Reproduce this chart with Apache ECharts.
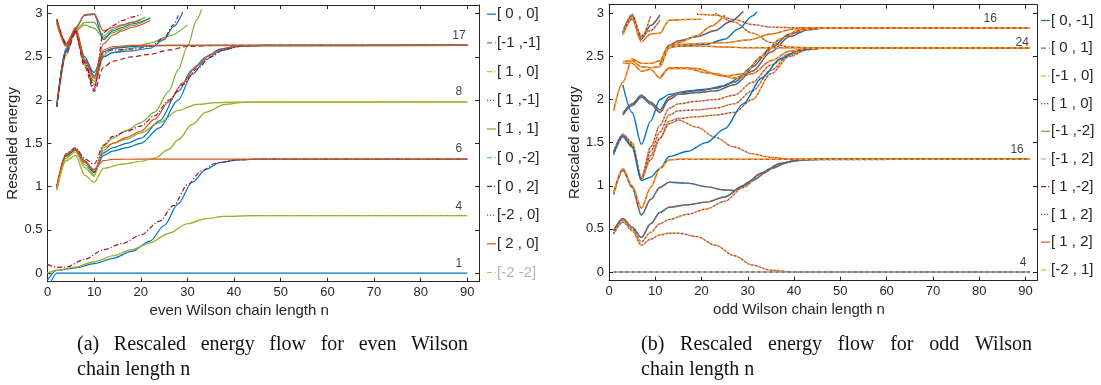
<!DOCTYPE html>
<html><head><meta charset="utf-8">
<script src="https://cdn.jsdelivr.net/npm/echarts@6/dist/echarts.min.js"></script>
<style>html,body{margin:0;padding:0;background:#fff}#c{width:1101px;height:385px}</style>
</head><body><div id="c"></div>
<script>
// ================= DATA =================
const xTicks = [0,10,20,30,40,50,60,70,80,90];
const yTicks = [0,0.5,1,1.5,2,2.5,3];
const evenLegend = ['[ 0 , 0]','[-1 ,-1]','[ 1 , 0]','[ 1 ,-1]','[ 1 , 1]','[ 0 ,-2]','[ 0 , 2]','[-2 , 0]','[ 2 , 0]','[-2 -2]'];
const oddLegend  = ['[ 0, -1]','[ 0 , 1]','[-1 , 0]','[ 1 , 0]','[-1 ,-2]','[-1 , 2]','[ 1 ,-2]','[ 1 , 2]','[ 1 , 2]','[-2 , 1]'];
const evenLevels = [2.634, 1.978, 1.317, 0.664, 0.0];
const evenDegeneracy = ['17','8','6','4','1'];
const oddLevels = [2.833, 2.6, 1.307, 0.0];
const oddDegeneracy = ['16','24','16','4'];
const captionA = ['(a) Rescaled energy flow for even Wilson', 'chain length n'];
const captionB = ['(b) Rescaled energy flow for odd Wilson', 'chain length n'];

// ---- even Wilson chain (n, rescaled energy) ----
const eL1 = [[0,-0.2],[2,0.0],[4,0.0],[90,0.0]];
const eL2 = [[0,-0.08],[2,0.03],[6,0.06],[10,0.11],[14,0.17],[18,0.25],[22,0.37],[25,0.55],[28,0.8],[31,1.05],[34,1.2],[37,1.28],[41,1.31],[46,1.317],[90,1.317]];
const eL3 = [[0,0.1],[2,0.065],[4,0.07],[8,0.16],[12,0.27],[16,0.34],[20,0.44],[24,0.6],[27,0.78],[30,1.02],[33,1.18],[36,1.27],[40,1.305],[45,1.317],[90,1.317]];
const eL4 = [[0,0.0],[2,0.03],[6,0.07],[10,0.13],[14,0.2],[18,0.27],[22,0.35],[26,0.46],[30,0.57],[34,0.63],[38,0.655],[44,0.664],[90,0.664]];
const eM1 = [[2,0.99],[4,1.38],[6,1.43],[8,1.28],[10,1.2],[12,1.3],[14,1.315],[20,1.317],[90,1.317]];
const eM2 = [[2,0.96],[4,1.3],[6,1.36],[8,1.13],[10,1.05],[12,1.21],[16,1.26],[20,1.29],[23,1.33],[26,1.43],[28,1.54],[31,1.72],[34,1.86],[38,1.95],[42,1.975],[50,1.978],[90,1.978]];
const eM3 = [[2,1.0],[4,1.37],[6,1.44],[8,1.3],[10,1.18],[12,1.42],[14,1.5],[17,1.57],[20,1.64],[23,1.78],[26,1.98],[29,2.2],[32,2.4],[35,2.53],[38,2.6],[42,2.63],[90,2.634]];
const eM4 = [[2,1.0],[4,1.38],[6,1.45],[8,1.32],[10,1.26],[12,1.48],[14,1.58],[17,1.64],[20,1.7],[23,1.82],[26,2.0],[29,2.18],[32,2.36],[35,2.5],[38,2.59],[42,2.625],[48,2.634],[90,2.634]];
const eM5 = [[2,1.0],[4,1.36],[6,1.43],[8,1.29],[10,1.16],[12,1.36],[14,1.41],[17,1.45],[20,1.5],[24,1.68],[28,2.0],[31,2.3],[34,2.47],[37,2.57],[41,2.62],[46,2.634],[90,2.634]];
const eM6 = [[2,0.99],[4,1.36],[6,1.42],[8,1.28],[10,1.17],[12,1.39],[14,1.45],[17,1.5],[20,1.56],[24,1.76],[28,2.1],[31,2.35],[34,2.5],[37,2.59],[41,2.63],[90,2.634]];
const eM7 = [[2,0.97],[4,1.33],[6,1.4],[8,1.22],[10,1.12],[12,1.45],[14,1.5],[17,1.55],[20,1.62],[24,1.74],[28,1.88],[32,1.95],[36,1.97],[40,1.976],[90,1.978]];
const eM8 = [[2,0.98],[4,1.35],[6,1.42],[8,1.25],[10,1.14],[12,1.47],[14,1.56],[17,1.65],[20,1.74],[23,1.86],[26,2.1],[28,2.35],[30,2.62],[32,2.93],[33,3.05]];
const eT1 = [[2,2.93],[4,2.65],[6,2.82],[8,2.99],[10,3.0],[12,2.8],[14,2.84],[16,2.87],[18,2.9],[20,2.93]];
const eT2 = [[2,2.94],[4,2.66],[6,2.8],[8,2.44],[10,2.12],[12,2.78],[14,2.86],[16,2.92],[18,2.96],[20,2.99]];
const eT3 = [[2,1.92],[4,2.52],[6,2.8],[8,2.87],[10,2.83],[12,2.72],[14,2.78],[16,2.82],[18,2.86],[22,2.95]];
const eT4 = [[2,1.93],[4,2.58],[6,2.84],[8,2.98],[10,2.99],[12,2.7],[14,2.8],[16,2.84],[18,2.88],[22,2.95]];
const eT5 = [[2,2.9],[4,2.62],[6,2.84],[8,2.45],[10,2.25],[12,2.58],[14,2.62],[18,2.632],[90,2.634]];
const eT6 = [[2,1.95],[4,2.6],[6,2.8],[8,2.47],[10,2.32],[12,2.56],[14,2.6],[20,2.625],[26,2.634],[90,2.634]];
const eT7 = [[2,2.88],[4,2.64],[6,2.78],[8,2.4],[10,2.22],[12,2.52],[14,2.6],[18,2.63],[90,2.634]];
const eT8 = [[2,1.92],[4,2.55],[6,2.77],[8,2.38],[10,2.1],[12,2.38],[14,2.45],[18,2.5],[22,2.53],[26,2.58],[30,2.62],[36,2.634],[90,2.634]];
const eT9 = [[2,1.94],[4,2.57],[6,2.82],[8,2.5],[10,2.28],[12,2.5],[14,2.55],[18,2.57],[22,2.6],[25,2.7],[27,2.85],[29,3.02]];
const eT10 = [[2,2.9],[4,2.63],[6,2.8],[8,2.42],[10,2.18],[12,2.5],[14,2.55],[18,2.6],[22,2.66],[26,2.74],[30,2.87]];
const eT11 = [[2,2.92],[4,2.64],[6,2.79],[8,2.43],[10,2.15],[12,2.55],[14,2.58],[18,2.59],[22,2.62],[25,2.72],[27,2.87],[28,2.98]];
const eT12 = [[2,2.89],[4,2.65],[6,2.81],[8,2.9],[10,2.9],[12,2.74],[14,2.82],[16,2.86],[18,2.9],[21,2.96]];
const eT13 = [[2,1.93],[4,2.55],[6,2.83],[8,2.46],[10,2.26],[12,2.65],[14,2.75],[16,2.8],[18,2.84],[22,2.92]];

// ---- odd Wilson chain (n, rescaled energy) ----
const oZ1 = [[3,2.8],[5,2.99],[7,2.72],[9,2.97]];
const oZ2 = [[3,2.77],[5,2.97],[7,2.7],[9,2.86],[11,2.98]];
const oZ3 = [[3,2.75],[5,2.93],[7,2.67],[9,2.76],[11,2.77],[13,2.92],[17,2.93],[20,2.93]];
const oZ4 = [[3,2.78],[5,2.95],[7,2.74],[9,2.8],[11,2.92]];
const oU1 = [[1,1.87],[3,2.2],[5,2.47],[7,2.42],[9,2.42],[11,2.45],[13,2.62],[15,2.64],[20,2.65],[25,2.66],[30,2.69],[35,2.76],[40,2.82],[45,2.833],[91,2.833]];
const oU2 = [[3,2.44],[5,2.45],[7,2.38],[9,2.37],[11,2.38],[13,2.6],[15,2.62],[20,2.62],[25,2.61],[30,2.6],[91,2.6]];
const oU3 = [[3,2.42],[5,2.42],[7,2.33],[9,2.35],[11,2.25],[13,2.37],[15,2.37],[19,2.36],[23,2.3],[27,2.25],[31,2.3],[35,2.45],[39,2.56],[43,2.595],[91,2.6]];
const oU4 = [[11,2.25],[13,2.36],[17,2.36],[21,2.31],[25,2.27],[29,2.3],[33,2.5],[37,2.7],[41,2.8],[45,2.833],[91,2.833]];
const oU5 = [[11,2.4],[13,2.63],[15,2.68],[19,2.73],[23,2.8],[26,2.9],[29,3.02]];
const oU6 = [[13,2.6],[15,2.62],[21,2.64],[25,2.7],[28,2.82],[31,2.97],[32,3.02]];
const oU7 = [[13,2.62],[15,2.66],[19,2.74],[22,2.85],[25,2.98]];
const oU8 = [[19,2.99],[23,2.98],[27,2.93],[31,2.87],[35,2.84],[40,2.833],[91,2.833]];
const oU9 = [[23,3.0],[27,2.9],[31,2.77],[35,2.66],[39,2.61],[44,2.6],[91,2.6]];
const oV1 = [[3,1.84],[5,1.95],[7,2.05],[9,1.97],[11,1.88],[13,2.03],[15,2.08],[19,2.1],[23,2.13],[27,2.2],[31,2.38],[35,2.6],[39,2.76],[43,2.82],[47,2.833],[91,2.833]];
const oV2 = [[3,1.82],[5,1.93],[7,2.03],[9,1.95],[11,1.85],[13,2.0],[15,2.06],[19,2.08],[23,2.1],[27,2.17],[31,2.33],[35,2.55],[39,2.73],[43,2.81],[47,2.833],[91,2.833]];
const oV3 = [[1,1.4],[3,1.6],[5,1.5],[7,1.08],[9,1.45],[11,1.7],[13,1.9],[15,1.95],[19,1.98],[23,2.0],[27,2.05],[31,2.2],[35,2.4],[39,2.53],[43,2.58],[47,2.6],[91,2.6]];
const oV4 = [[1,1.38],[3,1.58],[5,1.48],[7,1.1],[9,1.4],[11,1.62],[13,1.82],[15,1.87],[19,1.88],[23,1.9],[27,1.95],[31,2.1],[35,2.34],[39,2.52],[43,2.58],[47,2.6],[91,2.6]];
const oV5 = [[1,1.36],[3,1.56],[5,1.45],[7,1.07],[9,1.35],[11,1.55],[13,1.75],[15,1.78],[19,1.8],[23,1.82],[27,1.85],[31,2.0],[35,2.3],[39,2.5],[43,2.58],[47,2.6],[91,2.6]];
const oV6 = [[1,1.37],[3,1.57],[5,1.47],[7,1.09],[9,1.3],[11,1.55],[13,1.72],[15,1.76],[19,1.68],[23,1.56],[27,1.45],[31,1.37],[35,1.33],[39,1.31],[45,1.307],[91,1.307]];
const oV7 = [[1,1.38],[3,1.58],[5,1.45],[7,1.06],[9,1.1],[11,1.2],[13,1.34],[17,1.4],[21,1.5],[25,1.66],[29,1.95],[33,2.25],[37,2.47],[41,2.57],[45,2.6],[91,2.6]];
const oV8 = [[3,2.17],[5,1.85],[7,1.48],[9,1.75],[11,2.0],[13,2.06],[17,2.1],[21,2.12],[25,2.16],[29,2.28],[33,2.5],[37,2.7],[41,2.8],[45,2.833],[91,2.833]];
const oW1 = [[1,0.92],[3,1.2],[5,1.0],[7,0.74],[9,0.98],[11,1.2],[13,1.3],[15,1.307],[91,1.307]];
const oW3 = [[1,0.9],[3,1.18],[5,0.98],[7,0.66],[9,0.84],[11,0.98],[13,1.04],[17,1.03],[21,0.99],[25,0.95],[27,0.945],[31,1.06],[35,1.2],[39,1.28],[43,1.305],[91,1.307]];
const oX1 = [[1,0.48],[3,0.62],[5,0.52],[7,0.4],[9,0.56],[11,0.69],[13,0.75],[17,0.78],[21,0.81],[25,0.87],[29,1.0],[33,1.15],[37,1.26],[41,1.3],[46,1.307],[91,1.307]];
const oX2 = [[1,0.45],[3,0.6],[5,0.5],[7,0.35],[9,0.46],[11,0.56],[13,0.61],[17,0.67],[21,0.73],[25,0.82],[29,0.98],[33,1.14],[37,1.25],[41,1.3],[46,1.307],[91,1.307]];
const oX3 = [[1,0.44],[3,0.58],[5,0.48],[7,0.31],[9,0.38],[11,0.43],[13,0.45],[15,0.45],[19,0.41],[23,0.31],[27,0.19],[31,0.08],[35,0.02],[40,0.0],[91,0.0]];
const oX4 = [[1,0.0],[91,0.0]];

// ================= STYLE / LAYOUT =================
const COL = {blue:'#0072BD', orange:'#D95319', yellow:'#EDB120', purple:'#7E2F8E', green:'#77AC30', cyan:'#4DBEEE', red:'#A2142F'};
const DASH = {solid:null, dash:[5,3], dot:[1.2,1.8], dashdot:[5,2,1.2,2], alt:[3,3], dot3:[1.3,2.6]};
const legendStyle = [['blue','solid'],['orange','dash'],['yellow','dashdot'],['purple','dot'],['green','solid'],['cyan','dash'],['red','dashdot'],['blue','dot'],['orange','solid'],['yellow','dash']];
const SANS = '"Liberation Sans", Arial, sans-serif';
const AX = '#262626';

const evenPlot = [
  [eL1,'blue','solid'],[eL2,'blue','solid'],[eL3,'red','dashdot'],
  [eL4,'green','solid'],[eL4,'yellow','dot'],
  [eM2,'green','solid'],[eM7,'green','solid'],[eM8,'green','solid'],
  [eM5,'blue','solid'],[eM6,'blue','solid'],[eM3,'orange','solid'],[eM4,'red','dashdot'],
  [eM1,'orange','solid'],[eM7,'yellow','dot'],[eM2,'yellow','dot'],
  [eT3,'green','solid'],[eT12,'green','solid'],[eT10,'green','solid'],[eT7,'green','solid'],
  [eT4,'blue','solid'],[eT6,'blue','solid'],[eT9,'blue','solid'],
  [eT13,'orange','solid'],[eT1,'orange','solid'],
  [eT2,'red','dashdot'],[eT8,'red','dash'],[eT11,'red','dashdot'],
  [eT5,'orange','solid']
];
// odd: overlapping styles per curve: [colour, dash, dashOffset]
const STY = {
  A: [['blue','solid',0],['orange','alt',0]],
  B: [['purple','dot3',0],['orange','dot3',1.3],['yellow','dot3',2.6]],
  C: [['orange','solid',0],['yellow','alt',0]],
  D: [['cyan','solid',0],['orange','alt',0]],
  E: [['blue','solid',0]]
};
const oddPlot = [
  [oZ1,'B'],[oZ2,'A'],[oZ3,'C'],[oZ4,'B'],
  [oV3,'B'],[oV4,'B'],[oV5,'B'],[oV6,'B'],[oV7,'E'],[oV8,'E'],
  [oV1,'A'],[oV2,'A'],
  [oU8,'B'],[oU9,'B'],[oU5,'A'],[oU6,'E'],[oU7,'C'],
  [oU1,'C'],[oU2,'C'],[oU3,'C'],[oU4,'C'],
  [oX3,'B'],[oX2,'B'],[oX1,'A'],[oW3,'A'],[oW1,'C'],[oX4,'D']
];

const grids = [
  {left:47.5, top:5, width:431.5, height:276.7},
  {left:609, top:4.7, width:428, height:275.9}
];
const evenLabelAt = 88.2, evenLabelLift = [4,4,4,3,3];
const oddLabelAt = [82.4, 89.3, 88.2, 89.5], oddLabelLift = [3,-1,4,3];

function lineSeries(data, gi, color, dash, w, off) {
  return {type:'line', xAxisIndex:gi*2, yAxisIndex:gi*2, data:data, symbol:'none', showSymbol:false,
    smooth:0.3, smoothMonotone:'x', silent:true, animation:false, clip:true,
    lineStyle:{color:COL[color], type:dash==='solid'?'solid':DASH[dash], dashOffset:off||0, width:w||1.2}};
}
const series = [];
evenPlot.forEach(([d,c,s]) => series.push(lineSeries(d,0,c,s,1.2)));
oddPlot.forEach(([d,k]) => STY[k].forEach(([c,s,o]) => series.push(lineSeries(d,1,c,s,1.4,o))));
series.push({type:'scatter', xAxisIndex:0, yAxisIndex:0, symbolSize:0, silent:true, animation:false, z:10,
  data: evenLevels.map((v,i)=>({value:[evenLabelAt, v], name:evenDegeneracy[i], label:{distance:evenLabelLift[i]}})),
  label:{show:true, position:'top', formatter:p=>p.name, fontSize:12, color:'#111', fontFamily:SANS}});
series.push({type:'scatter', xAxisIndex:2, yAxisIndex:2, symbolSize:0, silent:true, animation:false, z:10,
  data: oddLevels.map((v,i)=>({value:[oddLabelAt[i], v], name:oddDegeneracy[i], label:{distance:oddLabelLift[i]}})),
  label:{show:true, position:'top', formatter:p=>p.name, fontSize:12, color:'#111', fontFamily:SANS}});

const xAxes = [], yAxes = [];
const axisNames = ['even Wilson chain length n', 'odd Wilson chain length n'];
[0,1].forEach(gi => {
  xAxes.push({gridIndex:gi, type:'value', position:'bottom', min:0, max:92.5,
    name:axisNames[gi], nameLocation:'middle', nameGap:19,
    nameTextStyle:{fontSize:15, color:AX, fontFamily:SANS, padding:[0,48,0,0]},
    axisLine:{show:true, onZero:false, lineStyle:{color:AX, width:1}},
    axisTick:{show:true, inside:true, length:4, customValues:xTicks, lineStyle:{color:AX}},
    axisLabel:{show:true, customValues:xTicks, fontSize:13, color:AX, fontFamily:SANS, margin:4},
    splitLine:{show:false}});
  xAxes.push({gridIndex:gi, type:'value', position:'top', min:0, max:92.5,
    axisLine:{show:true, onZero:false, lineStyle:{color:AX, width:1}},
    axisTick:{show:true, inside:true, length:4, customValues:xTicks, lineStyle:{color:AX}},
    axisLabel:{show:false}, splitLine:{show:false}});
  yAxes.push({gridIndex:gi, type:'value', position:'left', min:-0.1, max:3.1,
    name:'Rescaled energy', nameLocation:'middle', nameGap:26,
    nameTextStyle:{fontSize:15, color:AX, fontFamily:SANS},
    axisLine:{show:true, onZero:false, lineStyle:{color:AX, width:1}},
    axisTick:{show:true, inside:true, length:4, customValues:yTicks, lineStyle:{color:AX}},
    axisLabel:{show:true, customValues:yTicks, fontSize:13, color:AX, fontFamily:SANS, margin:5},
    splitLine:{show:false}});
  yAxes.push({gridIndex:gi, type:'value', position:'right', min:-0.1, max:3.1,
    axisLine:{show:true, onZero:false, lineStyle:{color:AX, width:1}},
    axisTick:{show:true, inside:true, length:4, customValues:yTicks, lineStyle:{color:AX}},
    axisLabel:{show:false}, splitLine:{show:false}});
});

// legend + captions as graphic
const graphic = [];
function addLegend(names, lineX, top, step, lastGray) {
  names.forEach((nm,i) => {
    const y = top + i*step;
    const [c,s] = legendStyle[i];
    graphic.push({type:'line', silent:true, shape:{x1:lineX, y1:y, x2:lineX+9, y2:y},
      style:{stroke:COL[c], lineWidth:1.2, lineDash:DASH[s]}});
    graphic.push({type:'text', silent:true, x:lineX+10, y:y,
      style:{text:nm, font:'15px '+SANS, fill:(lastGray && i===names.length-1)?'#b4b4b4':AX,
        textAlign:'left', textVerticalAlign:'middle', align:'left', verticalAlign:'middle'}});
  });
}
addLegend(evenLegend, 487, 14.2, 28.7, true);
addLegend(oddLegend, 1041, 20.5, 27.7, false);

const CAPFONT = '20px "Liberation Serif", "Times New Roman", serif';
const mctx = document.createElement('canvas').getContext('2d');
mctx.font = CAPFONT;
function addCaption(lines, x0, x1, y1, y2) {
  const words = lines[0].split(' ');
  const widths = words.map(w => mctx.measureText(w).width);
  const gap = (x1 - x0 - widths.reduce((a,b)=>a+b,0)) / (words.length-1);
  let x = x0;
  words.forEach((w,i) => {
    graphic.push({type:'text', silent:true, x:x, y:y1,
      style:{text:w, font:CAPFONT, fill:'#111', textAlign:'left', textVerticalAlign:'middle', align:'left', verticalAlign:'middle'}});
    x += widths[i] + gap;
  });
  graphic.push({type:'text', silent:true, x:x0, y:y2,
    style:{text:lines[1], font:CAPFONT, fill:'#111', textAlign:'left', textVerticalAlign:'middle', align:'left', verticalAlign:'middle'}});
}
addCaption(captionA, 77, 468, 345, 370);
addCaption(captionB, 641, 1032, 345, 370);

const chart = echarts.init(document.getElementById('c'), null, {renderer:'canvas'});
chart.setOption({
  animation:false,
  backgroundColor:'#fff',
  textStyle:{fontFamily:SANS},
  grid:grids,
  xAxis:xAxes,
  yAxis:yAxes,
  series:series,
  graphic:graphic
});
</script>
</body></html>
